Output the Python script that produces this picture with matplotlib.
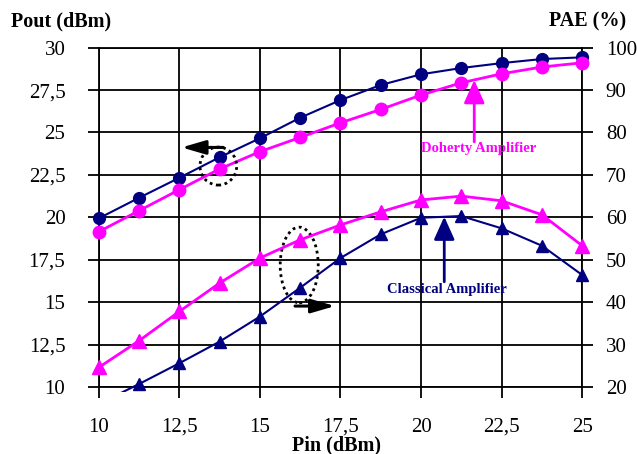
import matplotlib
matplotlib.use("Agg")
import matplotlib.pyplot as plt
from matplotlib.patches import Ellipse, Rectangle

pin = [10, 11.25, 12.5, 13.75, 15, 16.25, 17.5, 18.75, 20, 21.25, 22.5, 23.75, 25]
pout_classical = [19.94, 21.15, 22.33, 23.54, 24.66, 25.87, 26.91, 27.80, 28.43, 28.80, 29.09, 29.33, 29.43]
pout_doherty = [19.15, 20.39, 21.63, 22.85, 23.87, 24.71, 25.57, 26.36, 27.21, 27.93, 28.46, 28.86, 29.11]
pae_classical = [16.0, 20.7, 25.6, 30.7, 36.6, 43.4, 50.4, 56.0, 59.9, 60.3, 57.4, 53.3, 46.4]
pae_doherty = [24.6, 30.9, 37.8, 44.5, 50.4, 54.7, 58.2, 61.3, 64.1, 65.0, 63.9, 60.6, 53.3]

x_ticks = [10, 12.5, 15, 17.5, 20, 22.5, 25]
x_labels = ["10", "12,5", "15", "17,5", "20", "22,5", "25"]
pout_ticks = [10, 12.5, 15, 17.5, 20, 22.5, 25, 27.5, 30]
pout_labels = ["10", "12,5", "15", "17,5", "20", "22,5", "25", "27,5", "30"]
pae_ticks = [20, 30, 40, 50, 60, 70, 80, 90, 100]

NAVY = "#000080"
MAGENTA = "#FF00FF"
SERIF = "Liberation Serif"

fig = plt.figure(figsize=(6.37, 4.54), dpi=100)
ax = fig.add_axes([0.155, 0.1476, 0.759, 0.7474])
ax2 = ax.twinx()

ax.set_xlim(10, 25)
ax.set_ylim(10, 30)
ax2.set_ylim(20, 100)

ax.set_axisbelow(True)
ax.grid(True, color="black", linewidth=1.3)
for s in ax.spines.values():
    s.set_linewidth(1.3)
for s in ax2.spines.values():
    s.set_visible(False)

ax.set_xticks(x_ticks)
ax.set_xticklabels(x_labels, fontfamily=SERIF, fontsize=15)
ax.set_yticks(pout_ticks)
ax.set_yticklabels(pout_labels, fontfamily=SERIF, fontsize=15)
ax2.set_yticks(pae_ticks)
ax2.set_yticklabels([str(t) for t in pae_ticks], fontfamily=SERIF, fontsize=15)

ax.tick_params(axis="x", direction="out", length=8, width=1.3, pad=14)
ax.tick_params(axis="y", direction="out", length=8, width=1.3, pad=16)
ax2.tick_params(axis="y", direction="out", length=8, width=1.3, pad=9)

# Pout curves (left axis)
ax.plot(pin, pout_classical, color=NAVY, lw=1.5, marker="o", ms=8.5, clip_on=False, zorder=3)
ax.plot(pin, pout_doherty, color=MAGENTA, lw=2, marker="o", ms=9, clip_on=False, zorder=3)

# PAE curves (right axis)
ax2.plot(pin, pae_doherty, color=MAGENTA, lw=2, marker="^", ms=9.5, clip_on=False)
line, = ax2.plot(pin, pae_classical, color=NAVY, lw=1.5, marker="^", ms=9)
clip = Rectangle((0, -0.016), 1.05, 1.1, transform=ax2.transAxes)
line.set_clip_path(clip)

# annotations
ax.annotate("", xy=(21.65, 28.09), xytext=(21.65, 24.45),
            arrowprops=dict(arrowstyle="-|>,head_length=1.0,head_width=0.45",
                            color=MAGENTA, lw=2, mutation_scale=14, shrinkA=0, shrinkB=0))
ax.text(21.8, 24.07, "Doherty Amplifier", color=MAGENTA, fontfamily=SERIF,
        fontweight="bold", fontsize=10.5, ha="center", va="center")

ax.annotate("", xy=(20.72, 20.04), xytext=(20.72, 16.2),
            arrowprops=dict(arrowstyle="-|>,head_length=1.0,head_width=0.45",
                            color=NAVY, lw=2, mutation_scale=14, shrinkA=0, shrinkB=0))
ax.text(20.8, 15.76, "Classical Amplifier", color=NAVY, fontfamily=SERIF,
        fontweight="bold", fontsize=10.5, ha="center", va="center")

ax.annotate("", xy=(12.57, 24.12), xytext=(13.86, 24.12),
            arrowprops=dict(arrowstyle="-|>,head_length=1.2,head_width=0.35",
                            color="black", lw=2.2, mutation_scale=12, shrinkA=0, shrinkB=0))
ax.annotate("", xy=(17.33, 14.77), xytext=(16.09, 14.77),
            arrowprops=dict(arrowstyle="-|>,head_length=1.2,head_width=0.35",
                            color="black", lw=2.2, mutation_scale=12, shrinkA=0, shrinkB=0))

ax.add_patch(Ellipse((13.71, 23.02), 1.14, 2.24, fill=False, ec="black",
                     lw=2, linestyle=(0, (1, 1.3)), zorder=4))
ax.add_patch(Ellipse((16.22, 17.19), 1.18, 4.46, fill=False, ec="black",
                     lw=2, linestyle=(0, (1, 1.3)), zorder=4))

fig.text(11 / 637, 1 - 21.7 / 454, "Pout (dBm)", fontfamily=SERIF, fontweight="bold",
         fontsize=14.5, ha="left", va="center")
fig.text(626 / 637, 1 - 21.7 / 454, "PAE (%)", fontfamily=SERIF, fontweight="bold",
         fontsize=14.5, ha="right", va="center")
fig.text(336 / 637, 1 - 445 / 454, "Pin (dBm)", fontfamily=SERIF, fontweight="bold",
         fontsize=14.5, ha="center", va="center")

fig.savefig("out.png", dpi=100)
